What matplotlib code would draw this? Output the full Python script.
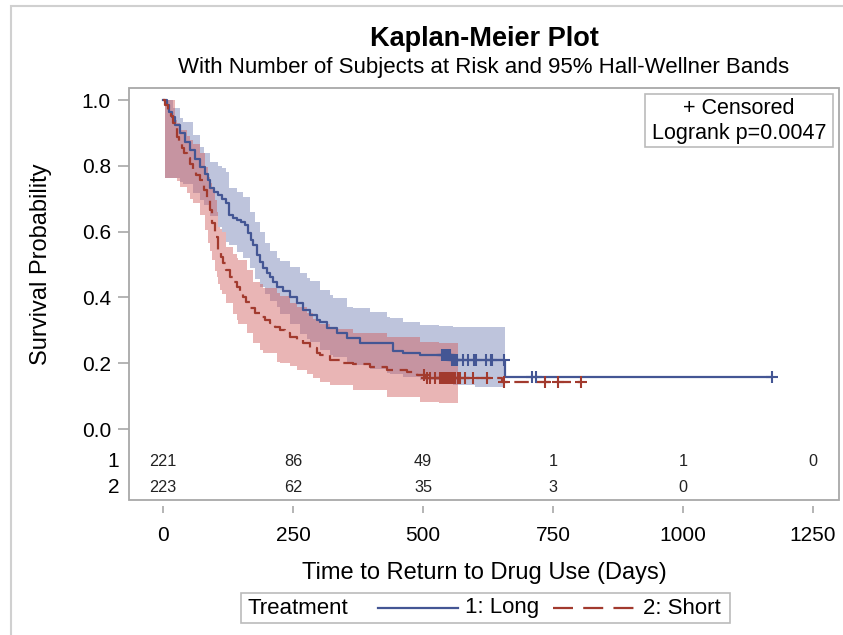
import matplotlib
matplotlib.use("Agg")
import matplotlib.pyplot as plt
import matplotlib.transforms as mtransforms
from matplotlib.patches import Rectangle
from matplotlib.lines import Line2D
import numpy as np

plt.rcParams['font.family'] = ['Liberation Sans', 'DejaVu Sans']

# Kaplan-Meier step curves (days, survival)
long_t = [0, 7, 12, 17, 24, 33, 42, 52, 62, 71, 80, 87, 90, 98, 106, 114, 122, 126,
          134, 142, 150, 158, 164, 169, 174, 180, 186, 193, 200, 206, 212, 219, 231,
          244, 257, 270, 283, 296, 302, 315, 334, 353, 379, 443, 462, 494, 555, 658, 1172]
long_s = [1.0, 0.985, 0.965, 0.949, 0.925, 0.899, 0.873, 0.848, 0.820, 0.797, 0.775,
          0.757, 0.732, 0.720, 0.711, 0.700, 0.686, 0.650, 0.642, 0.635, 0.628, 0.620,
          0.595, 0.575, 0.559, 0.529, 0.508, 0.488, 0.475, 0.463, 0.448, 0.433, 0.418,
          0.402, 0.382, 0.362, 0.346, 0.331, 0.326, 0.306, 0.291, 0.276, 0.262, 0.238,
          0.230, 0.225, 0.210, 0.157, 0.157]

short_t = [0, 4, 10, 15, 20, 26, 31, 36, 41, 46, 52, 58, 64, 71, 78, 84, 90, 94, 100,
           106, 111, 116, 122, 129, 135, 142, 148, 154, 160, 167, 177, 187, 196, 206,
           215, 225, 235, 244, 257, 270, 283, 296, 302, 321, 340, 366, 398, 430, 469,
           488, 505, 652, 804]
short_s = [1.0, 0.985, 0.970, 0.950, 0.929, 0.888, 0.870, 0.853, 0.838, 0.823, 0.805,
           0.787, 0.772, 0.757, 0.726, 0.696, 0.666, 0.625, 0.584, 0.544, 0.524, 0.504,
           0.484, 0.463, 0.448, 0.433, 0.417, 0.402, 0.385, 0.367, 0.354, 0.341, 0.331,
           0.321, 0.311, 0.301, 0.291, 0.281, 0.270, 0.260, 0.245, 0.230, 0.225, 0.210,
           0.202, 0.197, 0.187, 0.179, 0.174, 0.164, 0.154, 0.144, 0.144]

# censored times
long_cens = [536, 538, 540, 542, 544, 546, 548, 550, 552, 556, 558, 560, 562, 564, 566,
             576, 586, 599, 602, 621, 630, 633, 656, 709, 718, 1172]
short_cens = [501, 507, 513, 523, 533, 535, 537, 539, 541, 543, 545, 547, 549, 551, 553,
              555, 558, 562, 567, 571, 580, 596, 624, 656, 735, 760, 804]

# Hall-Wellner bands
long_band_t = [4, 20, 33, 39, 58, 71, 78, 90, 106, 113, 122, 126, 142, 154, 167, 177,
               187, 196, 206, 219, 225, 244, 263, 276, 283, 302, 321, 327, 353, 366,
               398, 430, 437, 462, 494, 530, 558, 600, 658]
long_band_hi = [1.0, 0.975, 0.945, 0.934, 0.894, 0.858, 0.840, 0.812, 0.800, 0.792,
                0.780, 0.732, 0.720, 0.706, 0.660, 0.630, 0.600, 0.564, 0.540, 0.519,
                0.510, 0.493, 0.475, 0.458, 0.450, 0.422, 0.407, 0.397, 0.372, 0.368,
                0.356, 0.341, 0.336, 0.326, 0.316, 0.312, 0.309, 0.309, 0.309]
long_band_lo = [0.762, 0.762, 0.752, 0.745, 0.716, 0.695, 0.681, 0.646, 0.615, 0.600,
                0.568, 0.560, 0.538, 0.520, 0.490, 0.455, 0.433, 0.410, 0.390, 0.370,
                0.350, 0.320, 0.290, 0.275, 0.265, 0.240, 0.225, 0.220, 0.205, 0.195,
                0.182, 0.169, 0.167, 0.158, 0.149, 0.140, 0.134, 0.129, 0.129]

short_band_t = [4, 23, 26, 33, 46, 52, 58, 71, 81, 87, 90, 94, 100, 103, 106, 110, 113,
                122, 135, 142, 145, 161, 174, 187, 193, 219, 225, 244, 257, 276, 289,
                302, 321, 366, 430, 494, 530, 567]
short_band_hi = [1.0, 0.940, 0.929, 0.910, 0.890, 0.878, 0.865, 0.838, 0.797, 0.765,
                 0.747, 0.730, 0.696, 0.660, 0.615, 0.608, 0.598, 0.552, 0.533, 0.520,
                 0.515, 0.483, 0.448, 0.440, 0.430, 0.412, 0.405, 0.382, 0.372, 0.352,
                 0.335, 0.318, 0.305, 0.291, 0.281, 0.265, 0.260, 0.260]
short_band_lo = [0.762, 0.762, 0.755, 0.737, 0.716, 0.700, 0.686, 0.650, 0.605, 0.564,
                 0.540, 0.514, 0.480, 0.463, 0.440, 0.422, 0.410, 0.382, 0.350, 0.331,
                 0.320, 0.291, 0.260, 0.240, 0.230, 0.205, 0.200, 0.190, 0.179, 0.168,
                 0.155, 0.142, 0.134, 0.119, 0.098, 0.083, 0.080, 0.080]

# number at risk
risk_times = [0, 250, 500, 750, 1000, 1250]
risk_long = [221, 86, 49, 1, 1, 0]
risk_short = [223, 62, 35, 3, 0]

blue_line = '#445694'
blue_fill = '#6F7EB3'
red_line = '#A23A2E'
red_fill = '#D05B5B'
frame_gray = '#A8A8A8'

fig = plt.figure(figsize=(8.43, 6.35), dpi=100)
ax = fig.add_axes([129 / 843, 1 - 500 / 635, 710 / 843, 412 / 635])

# bands
ax.fill_between(long_band_t, long_band_lo, long_band_hi, step='post',
                color=blue_fill, alpha=0.45, lw=0)
ax.fill_between(short_band_t, short_band_lo, short_band_hi, step='post',
                color=red_fill, alpha=0.45, lw=0)

# curves
ax.step(long_t, long_s, where='post', color=blue_line, lw=1.6)
ax.step(short_t, short_s, where='post', color=red_line, lw=1.6, dashes=(6.5, 3))


def step_value(ts, ss, c):
    ts = np.asarray(ts)
    idx = np.searchsorted(ts, c, side='right') - 1
    return np.asarray(ss)[idx]


ax.plot(long_cens, step_value(long_t, long_s, long_cens), ls='none', marker='+',
        ms=9, mew=1.5, color=blue_line)
ax.plot(short_cens, step_value(short_t, short_s, short_cens), ls='none', marker='+',
        ms=9, mew=1.5, color=red_line)

# at-risk table inside the axes
for t, n in zip(risk_times, risk_long):
    ax.text(t, -0.100, str(n), ha='center', va='center', fontsize=11.7, color='#222222')
for t, n in zip(risk_times, risk_short):
    ax.text(t, -0.179, str(n), ha='center', va='center', fontsize=11.7, color='#222222')
trans = mtransforms.blended_transform_factory(ax.transAxes, ax.transData)
ax.text(-0.014, -0.100, '1', transform=trans, ha='right', va='center', fontsize=15)
ax.text(-0.014, -0.179, '2', transform=trans, ha='right', va='center', fontsize=15)

ax.set_xlim(-65.4, 1300)
ax.set_ylim(-0.2158, 1.0365)
ax.set_xticks(risk_times)
ax.set_yticks([0.0, 0.2, 0.4, 0.6, 0.8, 1.0])
ax.set_yticklabels(['0.0', '0.2', '0.4', '0.6', '0.8', '1.0'])
ax.tick_params(axis='both', colors=frame_gray, labelcolor='black', labelsize=15)
ax.tick_params(axis='y', length=8, width=1.2, pad=5)
ax.tick_params(axis='x', length=5, width=1.2, pad=10)

# x ticks sit a little below the frame
ax.spines['bottom'].set_position(('outward', 4))
for sp in ax.spines.values():
    sp.set_visible(False)
ax.add_patch(Rectangle((0, 0), 1, 1, transform=ax.transAxes, fill=False,
                       ec=frame_gray, lw=1.3, clip_on=False, zorder=5))

# stats box
fig.add_artist(Rectangle((645 / 843, 1 - 147 / 635), 188 / 843, 53 / 635,
                         transform=fig.transFigure, fill=False, ec='#BBBBBB', lw=1.2))
fig.text(739 / 843, 1 - 108 / 635, '+ Censored', ha='center', va='center', fontsize=15.5)
fig.text(739 / 843, 1 - 134 / 635, 'Logrank p=0.0047', ha='center', va='center',
         fontsize=15.5)

# titles and axis labels
fig.text(484 / 843, 1 - 39 / 635, 'Kaplan-Meier Plot', ha='center', va='center',
         fontsize=19.5, fontweight='bold')
fig.text(484 / 843, 1 - 68 / 635,
         'With Number of Subjects at Risk and 95% Hall-Wellner Bands',
         ha='center', va='center', fontsize=16)
fig.text(41 / 843, 1 - 264.5 / 635, 'Survival Probability', rotation=90,
         ha='center', va='center', fontsize=17)
fig.text(484 / 843, 1 - 573 / 635, 'Time to Return to Drug Use (Days)',
         ha='center', va='center', fontsize=17)

# legend drawn by hand
fig.add_artist(Rectangle((241 / 843, 1 - 623 / 635), 489 / 843, 30 / 635,
                         transform=fig.transFigure, fill=False, ec='#BBBBBB', lw=1.2))
ly = 1 - 608 / 635
fig.text(248 / 843, ly, 'Treatment', ha='left', va='center', fontsize=16)
fig.add_artist(Line2D([378 / 843, 458 / 843], [ly, ly], transform=fig.transFigure,
                      color=blue_line, lw=1.6))
fig.text(465 / 843, ly, '1: Long', ha='left', va='center', fontsize=16)
fig.add_artist(Line2D([553 / 843, 634 / 843], [ly, ly], transform=fig.transFigure,
                      color=red_line, lw=1.6, dashes=(9, 4.6)))
fig.text(643 / 843, ly, '2: Short', ha='left', va='center', fontsize=16)

# outer frame
fig.add_artist(Rectangle((11 / 843, -0.1), 1.1, 1.1 - 6 / 635, transform=fig.transFigure,
                         fill=False, ec='#D0D0D0', lw=1.5))

fig.savefig('out.png', dpi=100)
